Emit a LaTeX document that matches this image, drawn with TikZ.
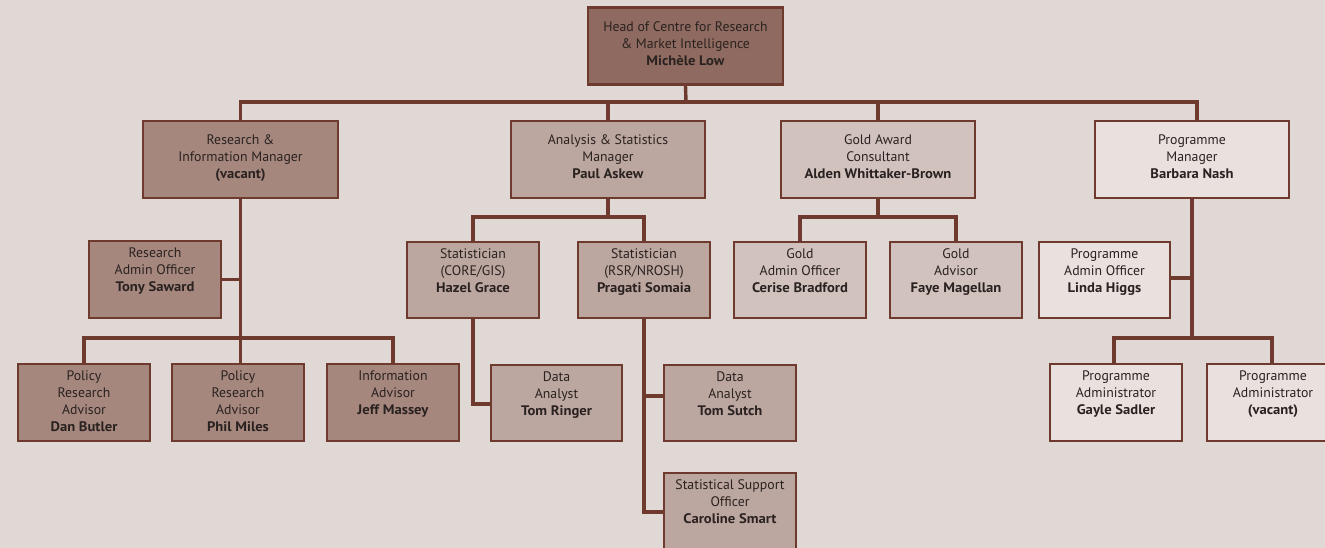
\documentclass[tikz,border=0pt]{standalone}
\usepackage{fontspec}
\setmainfont{PT Sans}[BoldFeatures={FakeStretch=1.06}]
\usepackage{xcolor}
\definecolor{chartbg}{HTML}{E0D8D5}
\definecolor{rimbrown}{HTML}{6E3A2D}
\definecolor{headfill}{HTML}{8E6A60}
\definecolor{resfill}{HTML}{A5877E}
\definecolor{anafill}{HTML}{BCA6A0}
\definecolor{goldfill}{HTML}{D1C2BE}
\definecolor{progfill}{HTML}{EAE1DF}
\definecolor{inktext}{HTML}{2A2220}

\begin{document}
\begin{tikzpicture}[x=1pt, y=-1pt,
  box/.style={draw=rimbrown, line width=2.6pt, minimum width=132pt, minimum height=77pt, inner sep=0pt},
  bigbox/.style={box, minimum width=195pt},
  toptxt/.style={anchor=north, yshift=-15pt, inner sep=0pt, align=center, text=inktext, font=\fontsize{13.8}{17}\selectfont},
  lowtxt/.style={anchor=north, yshift=-8pt, inner sep=0pt, align=center, text=inktext, font=\fontsize{13.8}{17}\selectfont},
  link/.style={draw=rimbrown, line width=3.4pt}]
  \fill[chartbg] (0,0) rectangle (1325,548);
  \useasboundingbox (0,0) rectangle (1325,548);

  % top
  \node[bigbox, fill=headfill, label={[toptxt]north:{Head of Centre for Research\\\& Market Intelligence\\\textbf{Michèle Low}}}] (head) at (685.5,46) {};

  % managers
  \node[bigbox, fill=resfill, label={[toptxt]north:{Research \&\\Information Manager\\\textbf{(vacant)}}}] (resmgr) at (240.5,159.5) {};
  \node[bigbox, minimum width=194pt, fill=anafill, label={[toptxt]north:{Analysis \& Statistics\\Manager\\\textbf{Paul Askew}}}] (anamgr) at (608,159.5) {};
  \node[bigbox, minimum width=194pt, fill=goldfill, label={[toptxt]north:{Gold Award\\Consultant\\\textbf{Alden Whittaker-Brown}}}] (goldmgr) at (878,159.5) {};
  \node[bigbox, minimum width=194pt, fill=progfill, label={[toptxt]north:{Programme\\Manager\\\textbf{Barbara Nash}}}] (progmgr) at (1192,159.5) {};

  % research column
  \node[box, fill=resfill, label={[lowtxt]north:{Research\\Admin Officer\\\textbf{Tony Saward}}}] (resadmin) at (155,279.5) {};
  \node[box, fill=resfill, label={[lowtxt]north:{Policy\\Research\\Advisor\\\textbf{Dan Butler}}}] (pol1) at (84,402.5) {};
  \node[box, fill=resfill, label={[lowtxt]north:{Policy\\Research\\Advisor\\\textbf{Phil Miles}}}] (pol2) at (238,402.5) {};
  \node[box, fill=resfill, label={[lowtxt]north:{Information\\Advisor\\\textbf{Jeff Massey}}}] (info) at (393,402.5) {};

  % analysis column
  \node[box, minimum height=76pt, fill=anafill, label={[lowtxt]north:{Statistician\\(CORE/GIS)\\\textbf{Hazel Grace}}}] (stat1) at (473,280) {};
  \node[box, minimum height=76pt, fill=anafill, label={[lowtxt]north:{Statistician\\(RSR/NROSH)\\\textbf{Pragati Somaia}}}] (stat2) at (644,280) {};
  \node[box, minimum width=131pt, minimum height=76pt, fill=anafill, label={[lowtxt]north:{Data\\Analyst\\\textbf{Tom Ringer}}}] (analyst1) at (556.5,403) {};
  \node[box, minimum height=76pt, fill=anafill, label={[lowtxt]north:{Data\\Analyst\\\textbf{Tom Sutch}}}] (analyst2) at (730,403) {};
  \node[box, minimum height=78pt, fill=anafill, label={[lowtxt]north:{Statistical Support\\Officer\\\textbf{Caroline Smart}}}] (support) at (730,512) {};

  % gold column
  \node[box, minimum height=76pt, fill=goldfill, label={[lowtxt]north:{Gold\\Admin Officer\\\textbf{Cerise Bradford}}}] (goldadmin) at (800,280) {};
  \node[box, minimum height=76pt, fill=goldfill, label={[lowtxt]north:{Gold\\Advisor\\\textbf{Faye Magellan}}}] (goldadv) at (956,280) {};

  % programme column
  \node[box, minimum width=131pt, minimum height=76pt, fill=progfill, label={[lowtxt]north:{Programme\\Admin Officer\\\textbf{Linda Higgs}}}] (progadmin) at (1104.5,280) {};
  \node[box, fill=progfill, label={[lowtxt]north:{Programme\\Administrator\\\textbf{Gayle Sadler}}}] (padm1) at (1116,402.5) {};
  \node[box, fill=progfill, label={[lowtxt]north:{Programme\\Administrator\\\textbf{(vacant)}}}] (padm2) at (1273,402.5) {};

  % links
  \coordinate (hub) at (686,102);
  \draw[link] (head.south) -- (hub);
  \draw[link] (resmgr.north) |- ([xshift=5pt]progmgr.north |- hub) -- ([xshift=5pt]progmgr.north);
  \draw[link] (anamgr.north) -- (anamgr.north |- hub);
  \draw[link] (goldmgr.north) -- (goldmgr.north |- hub);

  \coordinate (rbus) at (240,338);
  \draw[link] (resmgr.south) -- (resmgr.south |- pol2.north);
  \draw[link] (resadmin.east) -- (resadmin.east -| resmgr.south);
  \draw[link] (pol1.north) |- (rbus) -| (info.north);

  \coordinate (abus) at (608,217);
  \draw[link] (anamgr.south) -- (abus);
  \draw[link] (stat1.north) |- (abus) -| (stat2.north);
  \draw[link] (stat1.south) |- ([yshift=-1pt]analyst1.west);
  \draw[link] (stat2.south) |- (support.west);
  \draw[link] ([yshift=7pt]analyst2.west) -- ([yshift=7pt]analyst2.west -| stat2.south);

  \coordinate (gbus) at (878,217);
  \draw[link] (goldmgr.south) -- (gbus);
  \draw[link] (goldadmin.north) |- (gbus) -| (goldadv.north);

  \coordinate (pbus) at (1192,338);
  \draw[link] (progmgr.south) -- (pbus);
  \draw[link] ([yshift=2pt]progadmin.east) -- ([yshift=2pt]progadmin.east -| progmgr.south);
  \draw[link] ([xshift=-2pt]padm1.north) |- (pbus) -| ([xshift=-1pt]padm2.north);
\end{tikzpicture}
\end{document}
